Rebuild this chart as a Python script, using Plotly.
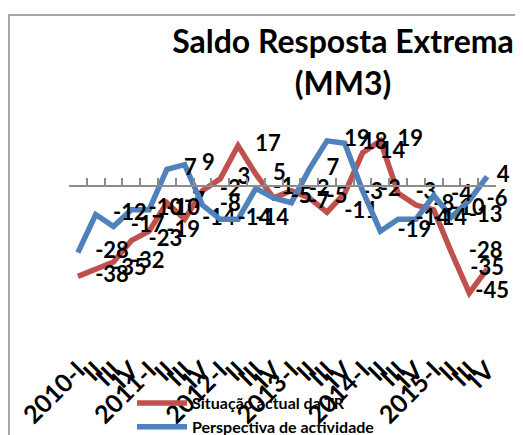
import plotly.graph_objects as go

# trimestres 2010-I a 2015-IV
trimestres = ['2010-I', 'II', 'III', 'IV',
              '2011-I', 'II', 'III', 'IV',
              '2012-I', 'II', 'III', 'IV',
              '2013-I', 'II', 'III', 'IV',
              '2014-I', 'II', 'III', 'IV',
              '2015-I', 'II', 'III', 'IV']

situacao_tr = [-38, -35, -32, -23, -19, -7, -14, -2, 3, 17, 5, -5,
               -2, -5, -11, -3, 14, 19, -3, -8, -10, -28, -45, -35]
perspectiva = [-28, -12, -17, -10, -10, 7, 9, -8, -14, -14, -1, -5,
               -7, 7, 19, 18, -2, -19, -14, -14, -4, -13, -6, 4]

nomes = ['Situação actual da TR', 'Perspectiva de actividade']
cores = ['#C0504D', '#4F81BD']

x = list(range(len(trimestres)))
y_min, y_max = -69, 32
cinza = '#8C8C8C'

# a página tem 8px de margem no body: tudo desenhado 8px acima/à esquerda
W, H = 523, 435
L, R, T, B = 61, 488, 102, 342   # área do gráfico, em px da figura


def px_x(p):
    return (p - L) / (R - L)


def px_y(p):
    return (B - p) / (B - T)


fig = go.Figure()
for nome, cor, serie in zip(nomes, cores, [situacao_tr, perspectiva]):
    posicoes = ['middle right'] * len(serie)
    tamanhos = [26] * len(serie)   # marcador invisível: afasta o rótulo da linha
    if serie is situacao_tr:
        posicoes[-1] = 'middle center'  # último rótulo não cabe à direita
        tamanhos[-2] = 8
    else:
        tamanhos[-1] = 14
    fig.add_trace(go.Scatter(
        x=x, y=serie, name=nome, mode='lines+markers+text',
        line=dict(color=cor, width=5.5),
        marker=dict(size=tamanhos, color='rgba(0,0,0,0)',
                    line=dict(width=0, color='rgba(0,0,0,0)')),
        text=[str(v) for v in serie], textposition=posicoes,
        textfont=dict(family='Lato', size=22, color='black', weight='bold'),
        cliponaxis=False, hoverinfo='skip'))

# eixo com marcas sobre o zero
fig.add_trace(go.Scatter(x=[x[0], x[-1]], y=[0, 0], xaxis='x2', mode='markers',
                         marker=dict(opacity=0), showlegend=False, hoverinfo='skip'))

fig.update_layout(
    width=W, height=H,
    margin=dict(l=L, r=W - R, t=T, b=H - B, pad=0, autoexpand=False),
    paper_bgcolor='white', plot_bgcolor='white',
    title=dict(text='Saldo Resposta Extrema<br>(MM3)',
               font=dict(family='Lato', size=32, color='black', weight='bold'),
               x=335 / W, xanchor='center', yref='container',
               y=1 - 45 / H, yanchor='top'),
    xaxis=dict(range=[-0.5, len(x) - 0.5], tickmode='array', tickvals=x,
               ticktext=trimestres, tickangle=-45, showgrid=False,
               zeroline=False, showline=False, ticks='', automargin=False,
               tickfont=dict(family='Lato', size=25, color='black', weight='bold')),
    xaxis2=dict(overlaying='x', anchor='free',
                position=(0 - y_min) / (y_max - y_min),
                range=[-0.5, len(x) - 0.5], tickmode='array',
                tickvals=[i - 0.5 for i in range(len(x) + 1)],
                ticks='inside', ticklen=7, tickwidth=1.5, tickcolor=cinza,
                showline=True, linecolor=cinza, linewidth=1.5,
                showticklabels=False, showgrid=False, zeroline=False,
                automargin=False),
    yaxis=dict(range=[y_min, y_max], visible=False, showgrid=False,
               automargin=False),
    legend=dict(xref='container', yref='container', x=124 / W, xanchor='left',
                y=1 - 378 / H, yanchor='top', bgcolor='rgba(0,0,0,0)',
                itemwidth=50,
                font=dict(family='Lato', size=16, color='black', weight='bold')),
    shapes=[dict(type='rect', xref='paper', yref='paper',
                 x0=px_x(1), x1=px_x(540), y0=px_y(460), y1=px_y(7),
                 line=dict(color=cinza, width=1.5))],
)

fig.write_html('out.html')
